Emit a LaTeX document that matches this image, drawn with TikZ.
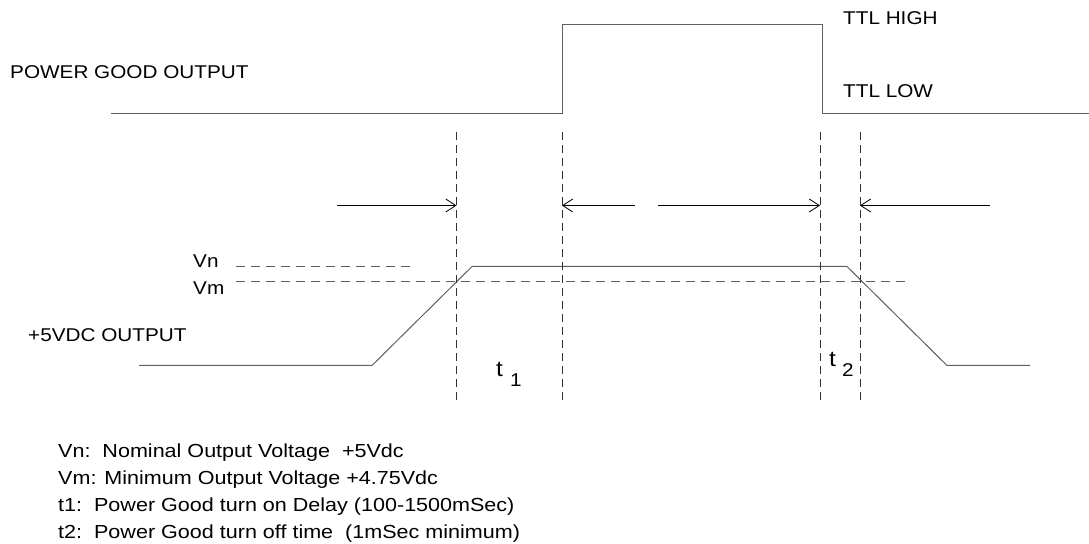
\documentclass[tikz,border=0pt]{standalone}
\usepackage{fontspec}
\newfontfamily\lab[FakeStretch=1.12]{Liberation Sans}
\newfontfamily\notefont[FakeStretch=1.14]{Liberation Sans}
\usetikzlibrary{arrows.meta}
\definecolor{sig}{RGB}{95,95,95}
\definecolor{dsh}{RGB}{50,50,50}
\begin{document}
\begin{tikzpicture}[x=1bp,y=-1bp,
  txt/.style={font=\lab\fontsize{18.5bp}{22bp}\selectfont, inner sep=0pt, anchor=base west},
  note/.style={font=\notefont\fontsize{18.9bp}{22bp}\selectfont, inner sep=0pt, anchor=base west},
  tlab/.style={font=\lab\fontsize{22bp}{24bp}\selectfont, inner sep=0pt, anchor=base west},
  signal/.style={draw=sig, line width=1bp},
  guide/.style={draw=dsh, line width=1bp, dash pattern=on 8bp off 5bp},
  level/.style={draw=sig, line width=1bp, dash pattern=on 9bp off 6bp},
  marker/.style={draw=black, line width=0.8bp, -{Straight Barb[length=10bp,width=13bp,line width=0.8bp]}}]
\useasboundingbox[fill=white] (0,0) rectangle (1089,544);

% labels
\node[txt] (pgo) at (10,79) {POWER GOOD OUTPUT};
\node[txt] (ttlh) at (843,24.5) {TTL HIGH};
\node[txt] (ttll) at (843,97.5) {TTL LOW};
\node[txt] (vn) at (193,268) {Vn};
\node[txt] (vm) at (193,294.5) {Vm};
\node[txt] (v5) at (28,341.5) {+5VDC OUTPUT};
\node[tlab] (t1a) at (496,377) {t};
\node[txt] (t1b) at (510,387) {1};
\node[tlab] (t2a) at (829,367) {t};
\node[txt] (t2b) at (842,377) {2};

% notes
\node[note] (n1) at (58,457.5) {Vn:\ \ Nominal Output Voltage\ \ +5Vdc};
\node[note] (n2) at (58,484.5) {Vm: Minimum Output Voltage +4.75Vdc};
\node[note] (n3) at (58,511.5) {t1:\ \ Power Good turn on Delay (100-1500mSec)};
\node[note] (n4) at (58,538.5) {t2:\ \ Power Good turn off time\ \ (1mSec minimum)};

% power good signal
\coordinate (p0) at (111,113.5);
\coordinate (p1) at (562,113.5);
\coordinate (p2) at (562,24.5);
\coordinate (p3) at (822,24.5);
\coordinate (p4) at (822,113.5);
\coordinate (p5) at (1089,113.5);
\path[signal] (p0) -- (p1) -- (p2) -- (p3) -- (p4) -- (p5);

% +5V signal
\coordinate (s0) at (139,365.5);
\coordinate (s1) at (372,365.5);
\coordinate (s2) at (472,266.5);
\coordinate (s3) at (847,266.5);
\coordinate (s4) at (947,365.5);
\coordinate (s5) at (1030,365.5);
\path[signal] (s0) -- (s1) -- (s2) -- (s3) -- (s4) -- (s5);

% level lines
\coordinate (vna) at (236,266.5);
\coordinate (vnb) at (414,266.5);
\coordinate (vma) at (236,281.5);
\coordinate (vmb) at (906,281.5);
\path[level] (vna) -- (vnb);
\path[level] (vma) -- (vmb);

% vertical guides
\foreach \n/\x in {g1/456.5, g2/562, g3/820, g4/860}{
  \coordinate (\n t) at (\x,132);
  \coordinate (\n b) at (\x,401);
  \path[guide] (\n t) -- (\n b);
}

% arrows
\coordinate (a1) at (337,205.5);
\coordinate (h1) at (456.5,205.5);
\coordinate (a2) at (635,205.5);
\coordinate (h2) at (562,205.5);
\coordinate (a3) at (658,205.5);
\coordinate (h3) at (820,205.5);
\coordinate (a4) at (990,205.5);
\coordinate (h4) at (860,205.5);
\draw[marker] (a1) -- (h1);
\draw[marker] (a2) -- (h2);
\draw[marker] (a3) -- (h3);
\draw[marker] (a4) -- (h4);
\end{tikzpicture}
\end{document}
